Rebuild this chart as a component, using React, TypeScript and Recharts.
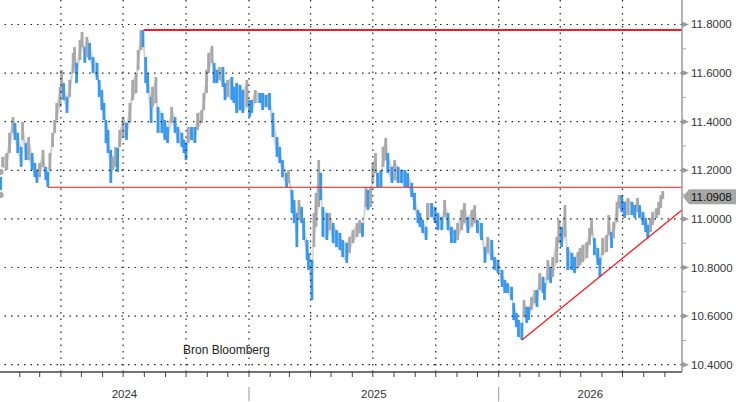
import {
  Area,
  Bar,
  ComposedChart,
  ReferenceLine,
  XAxis,
  YAxis,
} from "recharts";

// days since 1 Jan 2024, with the high / low
const days = [
  3, 6, 12, 16, 21, 24, 28, 33, 35, 40, 44, 49, 53, 56, 60, 65, 69, 72, 75, 79, 82, 85, 90, 92, 95, 100,
  104, 109, 111, 114, 119, 122, 126, 129, 133, 138, 144, 147, 151, 154, 157, 160, 164, 167, 171, 174,
  177, 182, 187, 192, 196, 201, 204, 208, 211, 215, 218, 223, 225, 230, 233, 239, 243, 247, 253, 258,
  262, 268, 271, 274, 277, 282, 287, 291, 297, 300, 304, 307, 312, 315, 319, 323, 328, 331, 335, 341, 344,
  348, 353, 357, 363, 367, 370, 375, 382, 386, 391, 396, 401, 407, 411, 415, 421, 424, 429, 432, 436,
  439, 443, 446, 451, 453, 458, 461, 464, 468, 471, 474, 480, 484, 489, 494, 499, 503, 509,
  513, 518, 524, 528, 532, 537, 540, 544, 547, 551, 554, 559, 562, 566, 569, 575, 579, 584, 589, 594,
  598, 604, 608, 613, 616, 620, 625, 627, 633, 638, 642, 648, 652, 657, 662, 667, 671, 677,
  681, 686, 692, 696, 700, 706, 711, 715, 721, 725, 730, 736, 740, 744, 750, 753, 757, 760, 765, 768,
  772, 775, 779, 784, 787, 791, 796, 798, 803, 807, 810, 816, 819, 823, 828, 832, 838, 842,
  847, 850, 854, 860, 864, 867, 871, 876, 879, 883, 889, 892, 896, 899, 904, 907, 911, 915, 920, 926,
  930, 934, 937, 942, 946, 949, 953, 956, 962, 965, 968, 971,
];

const highs = [
  11.193, 11.255, 11.271, 11.354, 11.419, 11.395, 11.354, 11.296, 11.399, 11.312,
  11.337, 11.271, 11.23, 11.201, 11.23, 11.284, 11.214, 11.193, 11.271, 11.354,
  11.407, 11.477, 11.543, 11.613, 11.559, 11.502, 11.572, 11.683, 11.707, 11.642,
  11.736, 11.769, 11.707, 11.749, 11.724, 11.666, 11.642, 11.572, 11.53, 11.477,
  11.407, 11.366, 11.284, 11.255, 11.296, 11.292,
  11.366, 11.419, 11.395, 11.477, 11.572, 11.6, 11.695, 11.777, 11.777, 11.666,
  11.6, 11.502, 11.543, 11.584, 11.461, 11.436, 11.407, 11.378, 11.461, 11.419,
  11.378, 11.354, 11.325, 11.312, 11.378, 11.378, 11.378, 11.436, 11.448, 11.518,
  11.613, 11.683, 11.712, 11.642, 11.613, 11.625, 11.625, 11.559, 11.572, 11.584, 11.543,
  11.559, 11.551, 11.53, 11.572, 11.489, 11.489, 11.53, 11.518, 11.518, 11.51,
  11.518, 11.436, 11.337, 11.296, 11.242, 11.189, 11.201, 11.119, 11.078, 11.024,
  11.078, 11.049, 10.996, 10.913, 10.86, 10.831, 11.024, 11.107, 11.242, 11.189,
  11.049, 11.024, 11.024, 10.983, 10.954, 10.942, 10.913, 10.901,
  10.926, 10.954, 10.983, 10.996, 10.983, 11.131, 11.119, 11.131, 11.23, 11.271,
  11.189, 11.201, 11.296, 11.333, 11.271, 11.214, 11.242, 11.214, 11.201, 11.201,
  11.189, 11.148, 11.107, 11.037, 11.024, 10.996, 10.967, 11.065, 11.065, 11.049,
  11.024, 11.008, 11.078, 11.024, 10.967, 10.954, 10.983, 11.037,
  11.065, 11.008, 11.037, 11.057, 10.996, 10.983, 10.884, 10.926, 10.913, 10.843,
  10.831, 10.79, 10.749, 10.736, 10.72, 10.654, 10.613, 10.584, 10.572, 10.666,
  10.638, 10.638, 10.679, 10.707, 10.707, 10.777, 10.761, 10.736, 10.831, 10.802,
  10.843, 10.926, 10.996, 10.967, 11.057, 10.884, 10.86, 10.843,
  10.864, 10.88, 10.893, 10.905, 10.963, 11.004, 10.921, 10.88, 10.839, 10.921,
  10.934, 11.016, 10.946, 10.987, 11.07, 11.098, 11.098, 11.07, 11.086, 11.07,
  11.057, 11.086, 11.057, 11.028, 11.004, 10.975, 11.004, 11.028, 11.045, 11.07,
  11.098, 11.115,
];

const lows = [
  11.098, 11.189, 11.201, 11.271, 11.354, 11.325, 11.271, 11.214, 11.325, 11.242,
  11.242, 11.201, 11.172, 11.148, 11.172, 11.214, 11.16, 11.131, 11.201, 11.296,
  11.354, 11.407, 11.461, 11.518, 11.489, 11.436, 11.502, 11.6, 11.625, 11.559,
  11.654, 11.707, 11.642, 11.666, 11.654, 11.6, 11.572, 11.502, 11.448, 11.407,
  11.312, 11.271, 11.148, 11.201, 11.214, 11.193,
  11.296, 11.337, 11.325, 11.395, 11.489, 11.518, 11.613, 11.695, 11.707, 11.559,
  11.518, 11.395, 11.461, 11.477, 11.354, 11.354, 11.325, 11.312, 11.395, 11.354,
  11.312, 11.296, 11.271, 11.242, 11.312, 11.325, 11.312, 11.366, 11.395, 11.448,
  11.518, 11.6, 11.642, 11.559, 11.559, 11.572, 11.543, 11.489, 11.502, 11.489, 11.477,
  11.436, 11.448, 11.436, 11.461, 11.419, 11.436, 11.477, 11.477, 11.448, 11.461,
  11.448, 11.337, 11.255, 11.23, 11.172, 11.131, 11.148, 11.024, 10.983, 10.884,
  10.996, 10.983, 10.913, 10.831, 10.79, 10.666, 10.884, 10.967, 11.049, 11.078,
  10.926, 10.913, 10.954, 10.901, 10.884, 10.872, 10.843, 10.819,
  10.86, 10.901, 10.926, 10.942, 10.926, 11.049, 11.037, 11.049, 11.148, 11.189,
  11.131, 11.131, 11.214, 11.242, 11.189, 11.148, 11.16, 11.148, 11.148, 11.131,
  11.131, 11.09, 11.037, 10.983, 10.967, 10.942, 10.913, 10.996, 11.008, 10.983,
  10.954, 10.954, 11.008, 10.954, 10.901, 10.901, 10.913, 10.954,
  10.983, 10.942, 10.967, 10.983, 10.942, 10.913, 10.819, 10.86, 10.831, 10.79,
  10.777, 10.72, 10.695, 10.695, 10.666, 10.584, 10.555, 10.514, 10.502, 10.596,
  10.572, 10.584, 10.625, 10.654, 10.638, 10.707, 10.695, 10.666, 10.749, 10.736,
  10.761, 10.819, 10.901, 10.884, 10.926, 10.79, 10.79, 10.777,
  10.798, 10.81, 10.823, 10.839, 10.893, 10.934, 10.851, 10.81, 10.761, 10.851,
  10.864, 10.934, 10.88, 10.921, 10.987, 11.045, 11.028, 11.004, 11.016, 11.016,
  11.004, 11.028, 11.004, 10.975, 10.946, 10.921, 10.946, 10.975, 11.004, 11.016,
  11.045, 11.082,
];

const lastClose = 11.0908;
const yTicks = [10.4, 10.6, 10.8, 11.0, 11.2, 11.4, 11.6, 11.8];
const yMinorTicks = [10.5, 10.7, 10.9, 11.1, 11.3, 11.5, 11.7];
const years = [2024, 2025, 2026];

// drawn levels
const resistance = { fromDay: 212, value: 11.777 };
const support = { fromDay: 72, value: 11.13 };
const trend = { fromDay: 765, fromValue: 10.502, toDay: 999, toValue: 11.037 };

const BLUE = "#3399f5";
const GRAY = "#a8a8a8";
const RED = "#ff1a1a";
const DOMAIN: [number, number] = [2, 999];
const Y_DOMAIN: [number, number] = [10.37, 11.9008];
const FONT = "'Liberation Sans', Arial, sans-serif";

const BASE = Date.UTC(2024, 0, 1);
const dayOf = (y: number, m: number) => (Date.UTC(y, m, 1) - BASE) / 86400000;

const monthTicks: number[] = [];
const quarterLines: number[] = [];
years.forEach((y) => {
  for (let m = 0; m < 12; m++) {
    const d = dayOf(y, m);
    if (d < DOMAIN[0] || d > DOMAIN[1]) continue;
    monthTicks.push(d);
    if (m % 3 === 0) quarterLines.push(d);
  }
});
const yearStarts = years.map((y) => dayOf(y, 0)).filter((d) => d > DOMAIN[0]);
const yearLabels = years.map((y) => ({
  year: y,
  day: (Math.max(dayOf(y, 0), DOMAIN[0]) + Math.min(dayOf(y + 1, 0), DOMAIN[1])) / 2,
}));
const xTicks = [...monthTicks, ...yearLabels.map((l) => l.day)].sort((a, b) => a - b);
const yAll = [...yTicks, ...yMinorTicks, lastClose].sort((a, b) => a - b);

// down moves in blue, up moves in gray
const rows = days.map((day, i) => {
  const mid = (highs[i] + lows[i]) / 2;
  const prev = i > 0 ? (highs[i - 1] + lows[i - 1]) / 2 : mid + 1;
  return { day, range: [lows[i], highs[i]], down: mid <= prev + 0.01 };
});

// fixed-width high/low bar centred on the date
function PriceBar(props: any) {
  const { x, y, width, height, payload } = props;
  if (height == null || isNaN(y)) return null;
  const cx = x + width / 2;
  const top = Math.min(y, y + height);
  const h = Math.max(Math.abs(height), 1);
  return <rect x={cx - 1.4} y={top} width={2.8} height={h} fill={payload.down ? BLUE : GRAY} />;
}

function XTick(props: any) {
  const { x, y, payload } = props;
  const v = payload.value as number;
  const label = yearLabels.find((l) => Math.abs(l.day - v) < 1e-6);
  if (label) {
    return (
      <text x={x} y={y + 26} textAnchor="middle" fontSize={11.5} fill="#333" fontFamily={FONT}>
        {label.year}
      </text>
    );
  }
  return (
    <g>
      <line x1={x} x2={x} y1={y} y2={y + 5} stroke="#444" strokeWidth={1} />
      {yearStarts.includes(v) && (
        <line x1={x} x2={x} y1={y + 15} y2={y + 29} stroke="#999" strokeWidth={1} />
      )}
    </g>
  );
}

function YTick(props: any) {
  const { x, y, payload } = props;
  const v = payload.value as number;
  if (Math.abs(v - lastClose) < 1e-6) {
    return (
      <g>
        <polygon
          points={`${x + 1},${y} ${x + 7},${y - 7.5} ${x + 56},${y - 7.5} ${x + 56},${y + 7.5} ${x + 7},${y + 7.5}`}
          fill="#a6a6a6"
        />
        <text x={x + 9} y={y + 4} fontSize={11.5} fill="#111" fontFamily={FONT}>
          {v.toFixed(4)}
        </text>
      </g>
    );
  }
  if (yMinorTicks.some((m) => Math.abs(m - v) < 1e-6)) {
    return <line x1={x} x2={x + 4} y1={y} y2={y} stroke="#aaa" strokeWidth={1} />;
  }
  return (
    <g>
      <polygon points={`${x},${y - 3} ${x + 7},${y} ${x},${y + 3}`} fill="#999" />
      <text x={x + 9} y={y + 4} fontSize={11.5} fill="#333" fontFamily={FONT}>
        {v.toFixed(4)}
      </text>
    </g>
  );
}

export default function App() {
  return (
    <div
      style={{
        position: "absolute",
        left: 0,
        top: 0,
        width: 736,
        height: 402,
        background: "#fff",
        fontFamily: FONT,
      }}
    >
      <ComposedChart width={736} height={402} data={rows} margin={{ top: 0, right: 0, bottom: 0, left: 0 }}>
        <XAxis
          dataKey="day"
          type="number"
          domain={DOMAIN}
          ticks={xTicks}
          interval={0}
          tickSize={0}
          tickMargin={0}
          tickLine={false}
          axisLine={{ stroke: "#444", strokeWidth: 1.5 }}
          height={30}
          tick={(p: any) => <XTick {...p} />}
          allowDataOverflow
        />
        <YAxis
          orientation="right"
          width={54}
          domain={Y_DOMAIN}
          ticks={yAll}
          interval={0}
          tickSize={0}
          tickMargin={0}
          tickLine={false}
          axisLine={{ stroke: "#9a9a9a", strokeWidth: 1.5 }}
          tick={(p: any) => <YTick {...p} />}
          allowDataOverflow
        />
        {yTicks.map((v) => (
          <ReferenceLine key={`h${v}`} y={v} stroke="#222" strokeWidth={1.2} strokeDasharray="1.5 5" />
        ))}
        {quarterLines.map((d) => (
          <ReferenceLine key={`v${d}`} x={d} stroke="#222" strokeWidth={1.2} strokeDasharray="1.5 5" />
        ))}
        <Area
          dataKey="range"
          type="linear"
          stroke="none"
          fill={GRAY}
          fillOpacity={0.5}
          isAnimationActive={false}
        />
        <Bar dataKey="range" shape={(p: any) => <PriceBar {...p} />} isAnimationActive={false} />
        <ReferenceLine
          segment={[
            { x: resistance.fromDay, y: resistance.value },
            { x: DOMAIN[1], y: resistance.value },
          ]}
          stroke={RED}
          strokeWidth={2}
        />
        <ReferenceLine
          segment={[
            { x: support.fromDay, y: support.value },
            { x: DOMAIN[1], y: support.value },
          ]}
          stroke={RED}
          strokeWidth={1}
        />
        <ReferenceLine
          segment={[
            { x: trend.fromDay, y: trend.fromValue },
            { x: trend.toDay, y: trend.toValue },
          ]}
          stroke={RED}
          strokeWidth={1.3}
        />
      </ComposedChart>
      <div style={{ position: "absolute", left: 183, top: 343, fontSize: 12, color: "#222" }}>
        Bron Bloomberg
      </div>
    </div>
  );
}
